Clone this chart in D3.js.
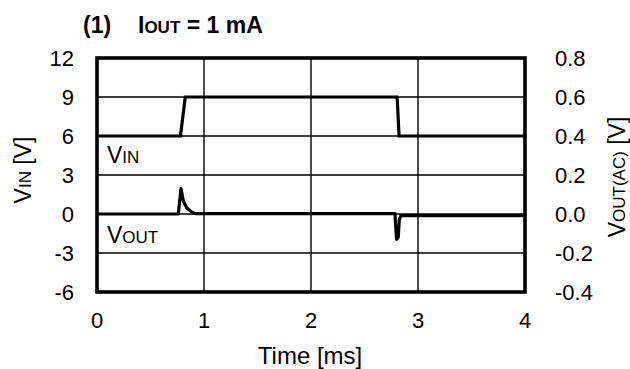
<!DOCTYPE html>
<html><head><meta charset="utf-8">
<script src="https://cdn.jsdelivr.net/npm/d3@7"></script>
<style>body{margin:0;background:#fff}svg{display:block}text{font-family:"Liberation Sans",Arial,sans-serif;fill:#000}</style>
</head><body><svg id="c" width="630" height="369"></svg>
<script>
const xTicks = [0, 1, 2, 3, 4];
const leftTicks = [-6, -3, 0, 3, 6, 9, 12];
const rightTicks = [-0.4, -0.2, 0.0, 0.2, 0.4, 0.6, 0.8];
const vinTime = [0, 0.78, 0.825, 2.805, 2.823, 4];
const vinValue = [6, 6, 9, 9, 6, 6];
const voutTime = [0, 0.76, 0.785, 0.807, 0.838, 0.885, 0.92, 2.785, 2.79, 2.80, 2.815, 2.825, 2.84, 2.86, 4];
const voutValue = [0, 0, 0.13, 0.067, 0.032, 0.01, 0.002, 0.002, -0.05, -0.13, -0.12, -0.03, -0.01, -0.008, -0.008];

const svg = d3.select("#c");
const L = 97, R = 525, T = 58, B = 292;
const x = d3.scaleLinear().domain([0, 4]).range([L, R]);
const yL = d3.scaleLinear().domain([-6, 12]).range([B, T]);
const yR = d3.scaleLinear().domain([-0.4, 0.8]).range([B, T]);

// grid
svg.append("g").selectAll("line").data(xTicks.slice(1, -1)).join("line")
  .attr("x1", d => x(d)).attr("x2", d => x(d)).attr("y1", T).attr("y2", B)
  .attr("stroke", "#000").attr("stroke-width", 1.4);
svg.append("g").selectAll("line").data(leftTicks.slice(1, -1)).join("line")
  .attr("x1", L).attr("x2", R).attr("y1", d => yL(d)).attr("y2", d => yL(d))
  .attr("stroke", "#000").attr("stroke-width", 1.4);

// data
const lineVin = d3.line().x((d, i) => x(vinTime[i])).y(d => yL(d));
svg.append("path").attr("d", lineVin(vinValue)).attr("fill", "none")
  .attr("stroke", "#000").attr("stroke-width", 3.2).attr("stroke-linejoin", "miter");
const lineVout = d3.line().x((d, i) => x(voutTime[i])).y(d => yR(d));
svg.append("path").attr("d", lineVout(voutValue)).attr("fill", "none")
  .attr("stroke", "#000").attr("stroke-width", 3.2).attr("stroke-linejoin", "round");

// frame
svg.append("rect").attr("x", L).attr("y", T).attr("width", R - L).attr("height", B - T)
  .attr("fill", "none").attr("stroke", "#000").attr("stroke-width", 3.6);

const FS = 22;
// left ticks
svg.append("g").selectAll("text").data(leftTicks).join("text")
  .attr("x", 74).attr("y", d => yL(d)).attr("dy", "0.36em")
  .attr("text-anchor", "end").attr("font-size", FS).text(d => d);
// right ticks
svg.append("g").selectAll("text").data(rightTicks).join("text")
  .attr("x", 555).attr("y", d => yR(d)).attr("dy", "0.36em")
  .attr("text-anchor", "start").attr("font-size", FS).text(d => d.toFixed(1));
// x ticks
svg.append("g").selectAll("text").data(xTicks).join("text")
  .attr("x", d => x(d)).attr("y", 327.5)
  .attr("text-anchor", "middle").attr("font-size", FS).text(d => d);

// x title
svg.append("text").attr("x", 310).attr("y", 364).attr("text-anchor", "middle")
  .attr("font-size", 24).text("Time [ms]");

// left title
const lt = svg.append("text").attr("transform", "translate(31,170) rotate(-90)")
  .attr("text-anchor", "middle").attr("font-size", 23);
lt.append("tspan").text("V");
lt.append("tspan").attr("font-size", 17).text("IN");
lt.append("tspan").text(" [V]");

// right title
const rt = svg.append("text").attr("transform", "translate(625,177) rotate(-90)")
  .attr("text-anchor", "middle").attr("font-size", 23);
rt.append("tspan").text("V");
rt.append("tspan").attr("font-size", 17).text("OUT(AC)");
rt.append("tspan").text(" [V]");

// series labels
const vl = svg.append("text").attr("x", 107).attr("y", 163).attr("font-size", 23);
vl.append("tspan").text("V");
vl.append("tspan").attr("font-size", 17).text("IN");
const vo = svg.append("text").attr("x", 107).attr("y", 243).attr("font-size", 23);
vo.append("tspan").text("V");
vo.append("tspan").attr("font-size", 17).text("OUT");

// title
const tt = svg.append("text").attr("y", 33).attr("font-size", 23).attr("font-weight", "bold");
tt.append("tspan").attr("x", 83).text("(1)");
tt.append("tspan").attr("x", 138).text("I");
tt.append("tspan").attr("font-size", 17).text("OUT");
tt.append("tspan").text(" = 1 mA");
</script></body></html>
